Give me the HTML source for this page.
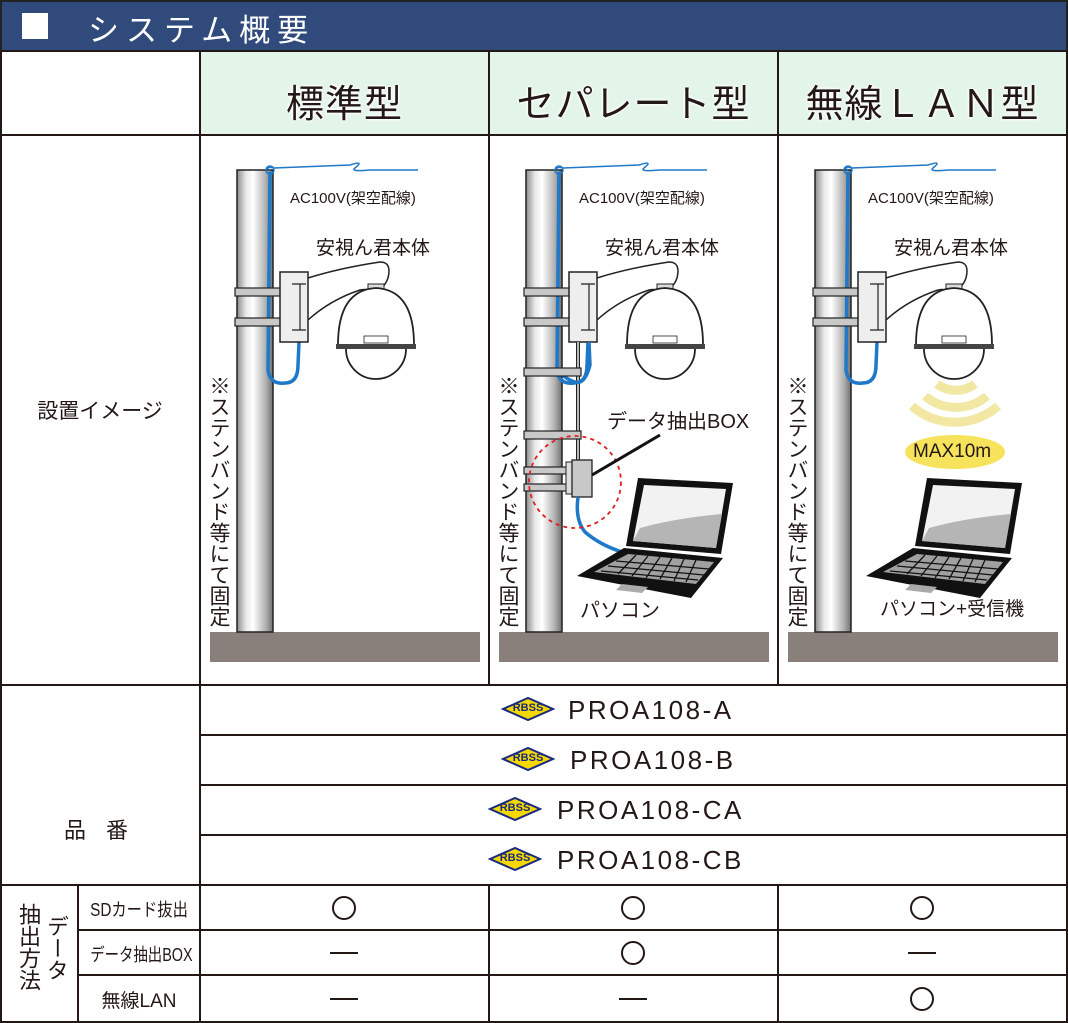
<!DOCTYPE html>
<html><head><meta charset="utf-8">
<style>
*{margin:0;padding:0;box-sizing:border-box}
body{width:1068px;height:1023px;background:#fff;position:relative;overflow:hidden;font-family:"Liberation Sans","Noto Sans CJK JP",sans-serif;color:#231815}
.a{position:absolute;white-space:nowrap}
.h{font-size:38px;text-shadow:0 0 3px #fff,0 0 3px #fff,0 0 3px #fff;letter-spacing:1px}
.c{text-align:center}
.pn{font-size:26px;letter-spacing:2.5px}
svg{position:absolute;left:0;top:0}
</style></head><body>
<svg width="1068" height="1023" viewBox="0 0 1068 1023">
<defs>
<linearGradient id="pg" x1="0" x2="1"><stop offset="0" stop-color="#8c8c8c"/><stop offset="0.25" stop-color="#e8e8e8"/><stop offset="0.45" stop-color="#ffffff"/><stop offset="0.8" stop-color="#b0b0b0"/><stop offset="1" stop-color="#707070"/></linearGradient>
<g id="scene">
<rect x="10" y="632" width="270" height="30" fill="#8a807b"/>
<rect x="37" y="170" width="36" height="462" fill="url(#pg)" stroke="#222" stroke-width="1.5"/>
<path d="M70 170 Q62 166 74 168 L150 165 Q165 160 155 168 Q150 172 170 170 L218 170" fill="none" stroke="#1f78c8" stroke-width="1.5"/>
<circle cx="70" cy="170" r="4" fill="none" stroke="#1f78c8" stroke-width="1.5"/>
<path d="M70 172 L68 370 Q70 385 85 383 Q98 383 98 365 L99 342" fill="none" stroke="#1f78c8" stroke-width="3.5"/>
<rect x="35" y="288" width="55" height="8" fill="#c8c8c8" stroke="#222" stroke-width="1.2"/>
<rect x="35" y="318" width="55" height="8" fill="#c8c8c8" stroke="#222" stroke-width="1.2"/>
<rect x="80" y="272" width="28" height="70" fill="#eee" stroke="#222" stroke-width="1.5"/>
<path d="M92 284h14M92 330h14M100 284v46" stroke="#222" stroke-width="1.2" fill="none"/>
<path d="M108 278 Q140 268 180 262 Q192 262 188 278 Q184 290 170 294 M108 320 Q130 300 160 290 Q170 288 172 294" fill="#fff" stroke="#222" stroke-width="1.5"/>
<rect x="168" y="284" width="16" height="10" fill="#ddd" stroke="#222"/>
<path d="M138 345 Q138 290 176 288 Q214 290 214 345 Z" fill="#fff" stroke="#222" stroke-width="1.8"/>
<rect x="136" y="344" width="80" height="5" fill="#444"/>
<path d="M146 349 A30 30 0 0 0 206 349" fill="#fff" stroke="#222" stroke-width="1.8"/>
<rect x="164" y="336" width="24" height="7" fill="#fff" stroke="#222" stroke-width="0.8"/>
</g>
<g id="lap">
<path d="M62 0 L157 5 L145 76 L50 68 Z" fill="#111"/>
<path d="M68 7 L150 11 L140 70 L57 63 Z" fill="#f2f2f2"/>
<path d="M57 63 L140 70 L146 36 Q100 40 64 50 Z" fill="#b5b5b5"/>
<path d="M48 70 L147 80 L115 120 L1 98 Z" fill="#111"/>
<path d="M52 76 L138 84 L120 106 L18 94 Z" fill="#a0a0a0"/>
<g stroke="#111" stroke-width="1.3">
<path d="M40 83 L133 91 M32 88 L128 97 M25 93 L122 102"/>
<path d="M60 77 L42 96 M72 78 L56 98 M84 79 L70 100 M96 80 L84 101 M108 81 L98 103 M120 82 L110 104"/>
</g>
<path d="M46 106 L72 109 L66 115 L40 112 Z" fill="#aaa"/>
</g>
</defs>
<rect x="1" y="1" width="1066" height="50" fill="#2f4a7b" stroke="#222" stroke-width="2"/>
<rect x="22" y="13" width="26" height="26" fill="#fff"/>
<rect x="201" y="52" width="866" height="83" fill="#e3f4e8"/>
<use href="#scene" x="200"/>
<use href="#scene" x="489"/>
<use href="#scene" x="778"/>
<line x1="578" y1="342" x2="578" y2="462" stroke="#222" stroke-width="4"/>
<line x1="578" y1="342" x2="578" y2="462" stroke="#bbb" stroke-width="2"/>
<path d="M589 342 L590 365 Q585 385 575 382 Q562 378 559 368" fill="none" stroke="#1f78c8" stroke-width="3.5"/>
<rect x="524" y="368" width="57" height="8" fill="#c8c8c8" stroke="#222" stroke-width="1.2"/>
<rect x="524" y="431" width="57" height="8" fill="#c8c8c8" stroke="#222" stroke-width="1.2"/>
<rect x="524" y="467" width="48" height="7" fill="#c8c8c8" stroke="#222" stroke-width="1.2"/>
<rect x="524" y="484" width="48" height="7" fill="#c8c8c8" stroke="#222" stroke-width="1.2"/>
<rect x="566" y="462" width="10" height="32" fill="#ddd" stroke="#222"/>
<rect x="572" y="460" width="20" height="37" fill="#c8c8c8" stroke="#222" stroke-width="1.3"/>
<path d="M578 497 Q575 520 585 532 Q600 545 622 552" fill="none" stroke="#1f78c8" stroke-width="3.5"/>
<circle cx="575" cy="482" r="46" fill="none" stroke="#e02020" stroke-width="1.8" stroke-dasharray="4 4"/>
<line x1="592" y1="475" x2="660" y2="435" stroke="#111" stroke-width="3"/>
<use href="#lap" x="576" y="478"/>
<g fill="none" stroke="#f2e7a3" stroke-width="9">
<path d="M937 384 A32 32 0 0 0 975 384"/>
<path d="M925 396 A48 48 0 0 0 987 396"/>
<path d="M912 406 A65 65 0 0 0 998 406"/>
</g>
<ellipse cx="955" cy="452" rx="50" ry="17" fill="#f7e35b"/>
<use href="#lap" x="865" y="478"/>
<g stroke="#231815" stroke-width="2" fill="none">
<rect x="1" y="51" width="1066" height="971"/>
<line x1="200" y1="51" x2="200" y2="1022"/>
<line x1="489" y1="51" x2="489" y2="685"/>
<line x1="778" y1="51" x2="778" y2="685"/>
<line x1="489" y1="885" x2="489" y2="1022"/>
<line x1="778" y1="885" x2="778" y2="1022"/>
<line x1="1" y1="135" x2="1067" y2="135"/>
<line x1="1" y1="685" x2="1067" y2="685"/>
<line x1="200" y1="735" x2="1067" y2="735"/>
<line x1="200" y1="785" x2="1067" y2="785"/>
<line x1="200" y1="835" x2="1067" y2="835"/>
<line x1="1" y1="885" x2="1067" y2="885"/>
<line x1="78" y1="930" x2="1067" y2="930"/>
<line x1="78" y1="975" x2="1067" y2="975"/>
<line x1="78" y1="885" x2="78" y2="1022"/>
</g>
<g id="logo">
<path d="M503 709 L528 698 L553 709 L528 720 Z" fill="#f5d800" stroke="#1a2a80" stroke-width="2"/>
<text x="528" y="711" font-family="Liberation Sans" font-weight="bold" font-size="11" fill="#1a2a80" text-anchor="middle">RBSS</text>
</g>
<use href="#logo" y="50"/>
<use href="#logo" x="-13" y="100"/>
<use href="#logo" x="-13" y="150"/>
<g fill="none" stroke="#231815" stroke-width="2">
<circle cx="344" cy="908" r="11"/><circle cx="633" cy="908" r="11"/><circle cx="922" cy="908" r="11"/>
<circle cx="633" cy="953" r="11"/><circle cx="922" cy="999" r="11"/>
<line x1="330" y1="953" x2="358" y2="953"/><line x1="908" y1="953" x2="936" y2="953"/>
<line x1="330" y1="999" x2="358" y2="999"/><line x1="619" y1="999" x2="647" y2="999"/>
</g>
</svg>
<div class="a" style="left:88px;top:5px;font-size:31px;color:#fff;letter-spacing:7px">システム概要</div>
<div class="a h c" style="left:200px;width:289px;top:73px">標準型</div>
<div class="a h c" style="left:489px;width:289px;top:73px">セパレート型</div>
<div class="a h c" style="left:778px;width:289px;top:73px">無線ＬＡＮ型</div>
<div class="a c" style="left:0;width:200px;top:395px;font-size:21px">設置イメージ</div>
<div class="a" style="left:290px;top:187px;font-size:15px">AC100V(架空配線)</div>
<div class="a" style="left:579px;top:187px;font-size:15px">AC100V(架空配線)</div>
<div class="a" style="left:868px;top:187px;font-size:15px">AC100V(架空配線)</div>
<div class="a" style="left:316px;top:233px;font-size:19px">安視ん君本体</div>
<div class="a" style="left:605px;top:233px;font-size:19px">安視ん君本体</div>
<div class="a" style="left:894px;top:233px;font-size:19px">安視ん君本体</div>
<div class="a" style="left:207px;top:375px;font-size:21px;writing-mode:vertical-rl;line-height:22px">※ステンバンド等にて固定</div>
<div class="a" style="left:496px;top:375px;font-size:21px;writing-mode:vertical-rl;line-height:22px">※ステンバンド等にて固定</div>
<div class="a" style="left:785px;top:375px;font-size:21px;writing-mode:vertical-rl;line-height:22px">※ステンバンド等にて固定</div>
<div class="a" style="left:607px;top:405px;font-size:20px">データ抽出BOX</div>
<div class="a" style="left:580px;top:594px;font-size:20px">パソコン</div>
<div class="a" style="left:880px;top:594px;font-size:19px">パソコン+受信機</div>
<div class="a" style="left:913px;top:441px;font-size:19px">MAX10m</div>
<div class="a pn" style="left:568px;top:695px">PROA108-A</div>
<div class="a pn" style="left:570px;top:745px">PROA108-B</div>
<div class="a pn" style="left:557px;top:795px">PROA108-CA</div>
<div class="a pn" style="left:557px;top:845px">PROA108-CB</div>
<div class="a" style="left:64px;top:813px;font-size:22px;letter-spacing:20px">品番</div>
<div class="a" style="left:16px;top:903px;font-size:22px;writing-mode:vertical-rl;line-height:24px">抽出方法</div>
<div class="a" style="left:44px;top:915px;font-size:22px;writing-mode:vertical-rl;line-height:24px">データ</div>
<div class="a c" style="left:78px;width:122px;top:896px;font-size:18px;transform:scaleX(0.85)">SDカード抜出</div>
<div class="a c" style="left:78px;width:122px;top:941px;font-size:18px;transform:scaleX(0.8)">データ抽出BOX</div>
<div class="a c" style="left:78px;width:122px;top:986px;font-size:19px">無線LAN</div>
</body></html>
